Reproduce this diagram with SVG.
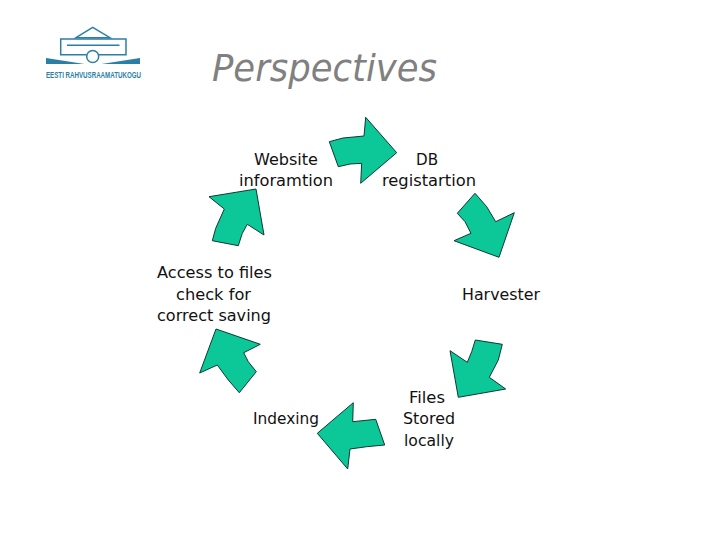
<svg xmlns="http://www.w3.org/2000/svg" width="720" height="540" viewBox="0 0 720 540">
<style>
.a{fill:#0cc898;stroke:#0c3a30;stroke-width:1;stroke-linejoin:miter}
.t{font-family:"DejaVu Sans",sans-serif;font-size:16.500px;fill:#111}
.title{font-family:"DejaVu Sans",sans-serif;font-style:italic;font-size:38px;fill:#808080}
.lg{fill:none;stroke:#2b7fa6;stroke-width:1.500}
.lf{fill:#2b7fa6}
</style>
<rect width="720" height="540" fill="#fff"/>
<g id="logo">
<path class="lg" d="M76,37.700 L92.700,27.300 L110,37.700 Z"/>
<path class="lg" d="M86.700,54.700 H60.700 V39 H126 V54.700 H99 M67,45.300 H119.500"/>
<circle class="lg" cx="92.700" cy="56.500" r="6"/>
<path class="lf" d="M46,58 V64 H84.500 Z M140,58 V64 H101.500 Z"/>
<text x="46" y="78" font-family="Liberation Sans,sans-serif" font-weight="bold" font-size="9.500" fill="#2b7fa6" textLength="95" lengthAdjust="spacingAndGlyphs">EESTI RAHVUSRAAMATUKOGU</text>
</g>
<text id="title" class="title" x="212" y="80.500" textLength="225" lengthAdjust="spacingAndGlyphs">Perspectives</text>
<g id="connectors">
<path class="a" d="M329.300,141.700 L343,138 L364,136 L365.700,117.300 L396.700,152.700 L360.700,183.300 L361.700,163.300 L350,164 L338.300,166.700 Z"/>
<path class="a" d="M475,193.300 L486.700,206.700 L495.700,221.700 L514.300,212.700 L499,257.300 L454,240.700 L471,233.300 L465,221.700 L457.300,213.300 Z"/>
<path class="a" d="M475.300,340 L502.300,344.300 L498.300,360 L489.300,377.300 L505.700,389 L458.300,397.300 L450,350.700 L467.300,362.300 L471.700,351.700 Z"/>
<path class="a" d="M353.300,402.700 L352.700,421.700 L375.700,419.300 L384.700,445 L366.700,446.700 L350,449 L347.700,469 L317.300,433.300 Z"/>
<path class="a" d="M216,329 L260.300,344.300 L243.700,352.700 L248.300,361.700 L256.300,371.700 L239.300,392.700 L228.300,380 L217.300,365 L199.700,373 Z"/>
<path class="a" d="M209,196.700 L256,189 L264,235 L247.300,224.300 L242.300,233.300 L238.300,245.700 L212.300,240.700 L215.700,228.300 L224.300,209 Z"/>
</g>
<g id="website"><text class="t" x="254" y="164.500" textLength="64" lengthAdjust="spacingAndGlyphs">Website</text><text class="t" x="239" y="185.500" textLength="94" lengthAdjust="spacingAndGlyphs">inforamtion</text></g>
<g id="db"><text class="t" x="416" y="164.500" textLength="22" lengthAdjust="spacingAndGlyphs">DB</text><text class="t" x="382" y="185.500" textLength="94" lengthAdjust="spacingAndGlyphs">registartion</text></g>
<g id="harvester"><text class="t" x="462" y="299.500" textLength="78" lengthAdjust="spacingAndGlyphs">Harvester</text></g>
<g id="files"><text class="t" x="409" y="402.500" textLength="36" lengthAdjust="spacingAndGlyphs">Files</text><text class="t" x="403" y="423.500" textLength="52" lengthAdjust="spacingAndGlyphs">Stored</text><text class="t" x="404" y="445.500" textLength="50" lengthAdjust="spacingAndGlyphs">locally</text></g>
<g id="indexing"><text class="t" x="253" y="423.500" textLength="66" lengthAdjust="spacingAndGlyphs">Indexing</text></g>
<g id="access"><text class="t" x="157" y="277.500" textLength="115" lengthAdjust="spacingAndGlyphs">Access to files</text><text class="t" x="176" y="299.500" textLength="75" lengthAdjust="spacingAndGlyphs">check for</text><text class="t" x="157" y="320.500" textLength="114" lengthAdjust="spacingAndGlyphs">correct saving</text></g>
</svg>
